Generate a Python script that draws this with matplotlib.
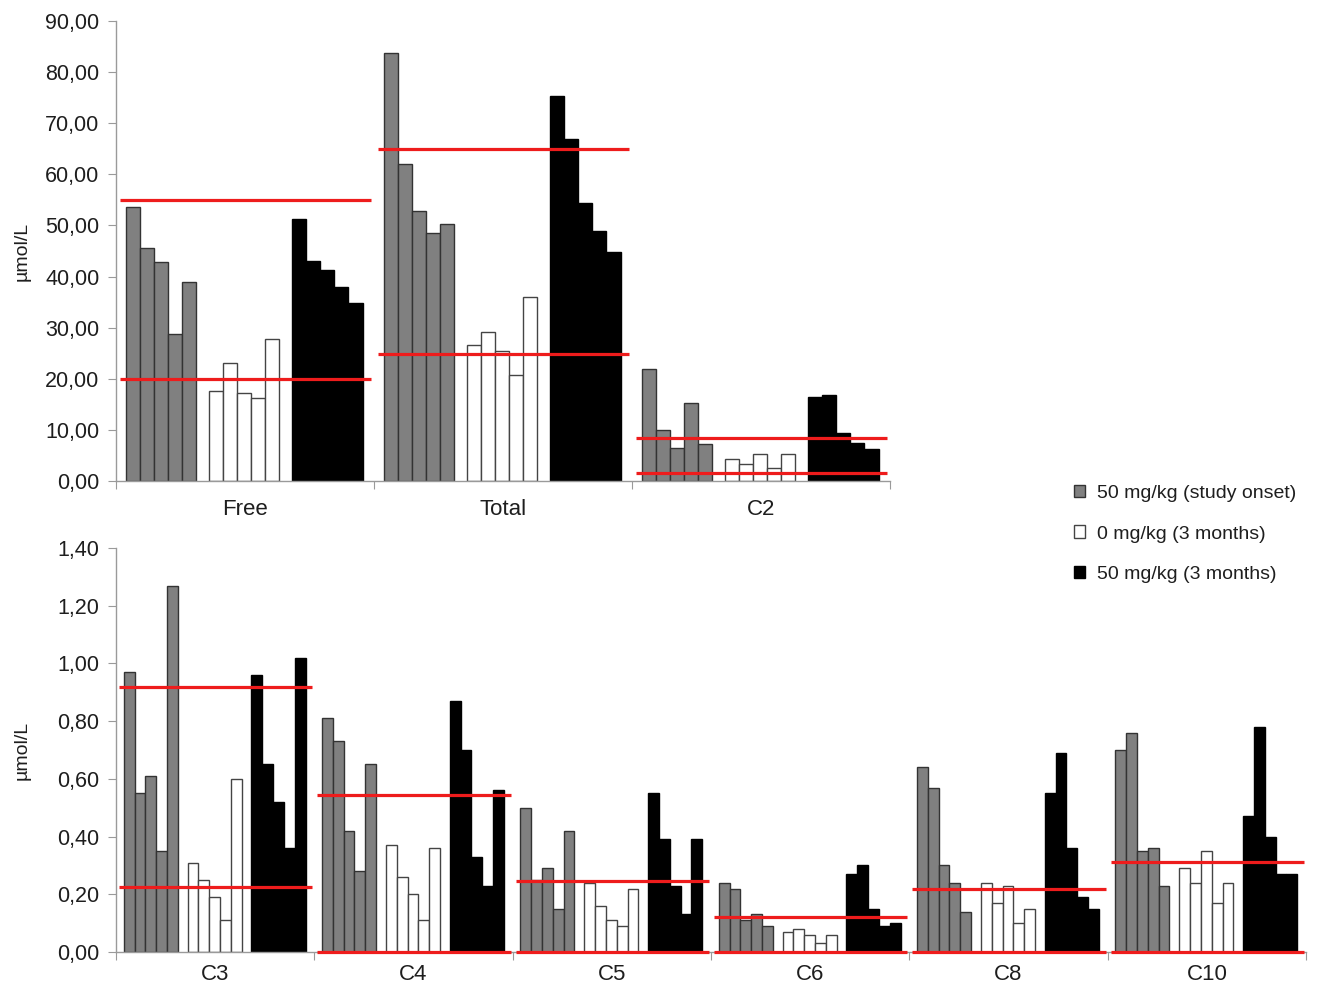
import numpy as np
import matplotlib
matplotlib.use("Agg")
import matplotlib.pyplot as plt
from matplotlib.patches import Patch
from matplotlib.ticker import FuncFormatter

plt.rcParams['font.family'] = ['Liberation Sans', 'DejaVu Sans']

# Datos panel superior (umol/L)
top_cats = ["Free", "Total", "C2"]
top_onset = [[53.7, 45.5, 42.9, 28.8, 38.9],
             [83.8, 62.0, 52.8, 48.6, 50.3],
             [21.9, 10.0, 6.4, 15.3, 7.2]]
top_zero = [[17.7, 23.1, 17.3, 16.2, 27.7],
            [26.6, 29.1, 25.4, 20.8, 36.0],
            [4.3, 3.4, 5.3, 2.5, 5.3]]
top_three = [[51.2, 43.1, 41.3, 37.9, 34.8],
             [75.3, 66.9, 54.3, 48.9, 44.8],
             [16.4, 16.9, 9.3, 7.4, 6.2]]
top_ref_hi = [55.0, 65.0, 8.5]
top_ref_lo = [20.0, 24.8, 1.6]

# Datos panel inferior (umol/L)
bot_cats = ["C3", "C4", "C5", "C6", "C8", "C10"]
bot_onset = [[0.97, 0.55, 0.61, 0.35, 1.27],
             [0.81, 0.73, 0.42, 0.28, 0.65],
             [0.50, 0.25, 0.29, 0.15, 0.42],
             [0.24, 0.22, 0.11, 0.13, 0.09],
             [0.64, 0.57, 0.30, 0.24, 0.14],
             [0.70, 0.76, 0.35, 0.36, 0.23]]
bot_zero = [[0.31, 0.25, 0.19, 0.11, 0.60],
            [0.37, 0.26, 0.20, 0.11, 0.36],
            [0.24, 0.16, 0.11, 0.09, 0.22],
            [0.07, 0.08, 0.06, 0.03, 0.06],
            [0.24, 0.17, 0.23, 0.10, 0.15],
            [0.29, 0.24, 0.35, 0.17, 0.24]]
bot_three = [[0.96, 0.65, 0.52, 0.36, 1.02],
             [0.87, 0.70, 0.33, 0.23, 0.56],
             [0.55, 0.39, 0.23, 0.13, 0.39],
             [0.27, 0.30, 0.15, 0.09, 0.10],
             [0.55, 0.69, 0.36, 0.19, 0.15],
             [0.47, 0.78, 0.40, 0.27, 0.27]]
bot_ref_hi = [0.92, 0.545, 0.245, 0.12, 0.22, 0.312]
bot_ref_lo = [0.225, 0.0, 0.0, 0.0, 0.0, 0.0]

series_names = ["50 mg/kg (study onset)", "0 mg/kg (3 months)", "50 mg/kg (3 months)"]
colores = ["#808080", "white", "black"]
bordes = ["#333333", "#444444", "black"]

w = 0.0545
inicios = [0.039, 0.361, 0.683]
gris = "#9a9a9a"
texto = "#1e1e1e"
rojo = "#ee1c1c"


def panel(ax, cats, grupos, ref_hi, ref_lo, ymax, ystep, pad_cat):
    for c in range(len(cats)):
        for g, datos in enumerate(grupos):
            x = [c + inicios[g] + i * w for i in range(5)]
            ax.bar(x, datos[c], width=w, align='edge', color=colores[g],
                   edgecolor=bordes[g], linewidth=1.0, zorder=2)
        ax.hlines(ref_hi[c], c + 0.015, c + 0.99, color=rojo, linewidth=2.3, zorder=4, clip_on=False)
        ax.hlines(ref_lo[c], c + 0.015, c + 0.99, color=rojo, linewidth=2.3, zorder=4, clip_on=False)
    ax.set_xlim(0, len(cats))
    ax.set_ylim(0, ymax)
    ax.set_yticks(np.arange(0, ymax + ystep / 2, ystep))
    ax.yaxis.set_major_formatter(FuncFormatter(lambda v, p: f"{v:.2f}".replace(".", ",")))
    ax.set_xticks(np.arange(len(cats) + 1))
    ax.set_xticklabels([])
    ax.set_xticks(np.arange(len(cats)) + 0.5, minor=True)
    ax.set_xticklabels(cats, minor=True, fontsize=16, color=texto)
    ax.tick_params(axis='x', which='minor', length=0, pad=pad_cat)
    ax.tick_params(axis='x', which='major', length=6, color=gris, direction='out')
    ax.tick_params(axis='y', length=6, color=gris, labelsize=15.5, labelcolor=texto, pad=6)
    for s in ["top", "right"]:
        ax.spines[s].set_visible(False)
    for s in ["left", "bottom"]:
        ax.spines[s].set_color(gris)
        ax.spines[s].set_linewidth(1.0)
    ax.set_ylabel("µmol/L", fontsize=14, color=texto)


fig = plt.figure(figsize=(13.38, 9.9), dpi=100)
ax1 = fig.add_axes([116 / 1338, 1 - 481 / 990, 774 / 1338, 460 / 990])
ax2 = fig.add_axes([116 / 1338, 1 - 952 / 990, 1190 / 1338, 404 / 990])

panel(ax1, top_cats, [top_onset, top_zero, top_three], top_ref_hi, top_ref_lo, 90, 10, 13)
panel(ax2, bot_cats, [bot_onset, bot_zero, bot_three], bot_ref_hi, bot_ref_lo, 1.4, 0.2, 9)
ax1.yaxis.set_label_coords((31 - 116) / 774, 0.5)
ax2.yaxis.set_label_coords((31 - 116) / 1190, 0.5)

handles = [Patch(facecolor=colores[i], edgecolor=bordes[i], linewidth=1.0) for i in range(3)]
fig.legend(handles, series_names, loc='center left', bbox_to_anchor=(1056 / 1338, 1 - 534 / 990),
           frameon=False, fontsize=14, handlelength=0.6, handleheight=0.6, handletextpad=0.6,
           labelspacing=1.2, labelcolor=texto)

fig.savefig("out.png", dpi=100)
